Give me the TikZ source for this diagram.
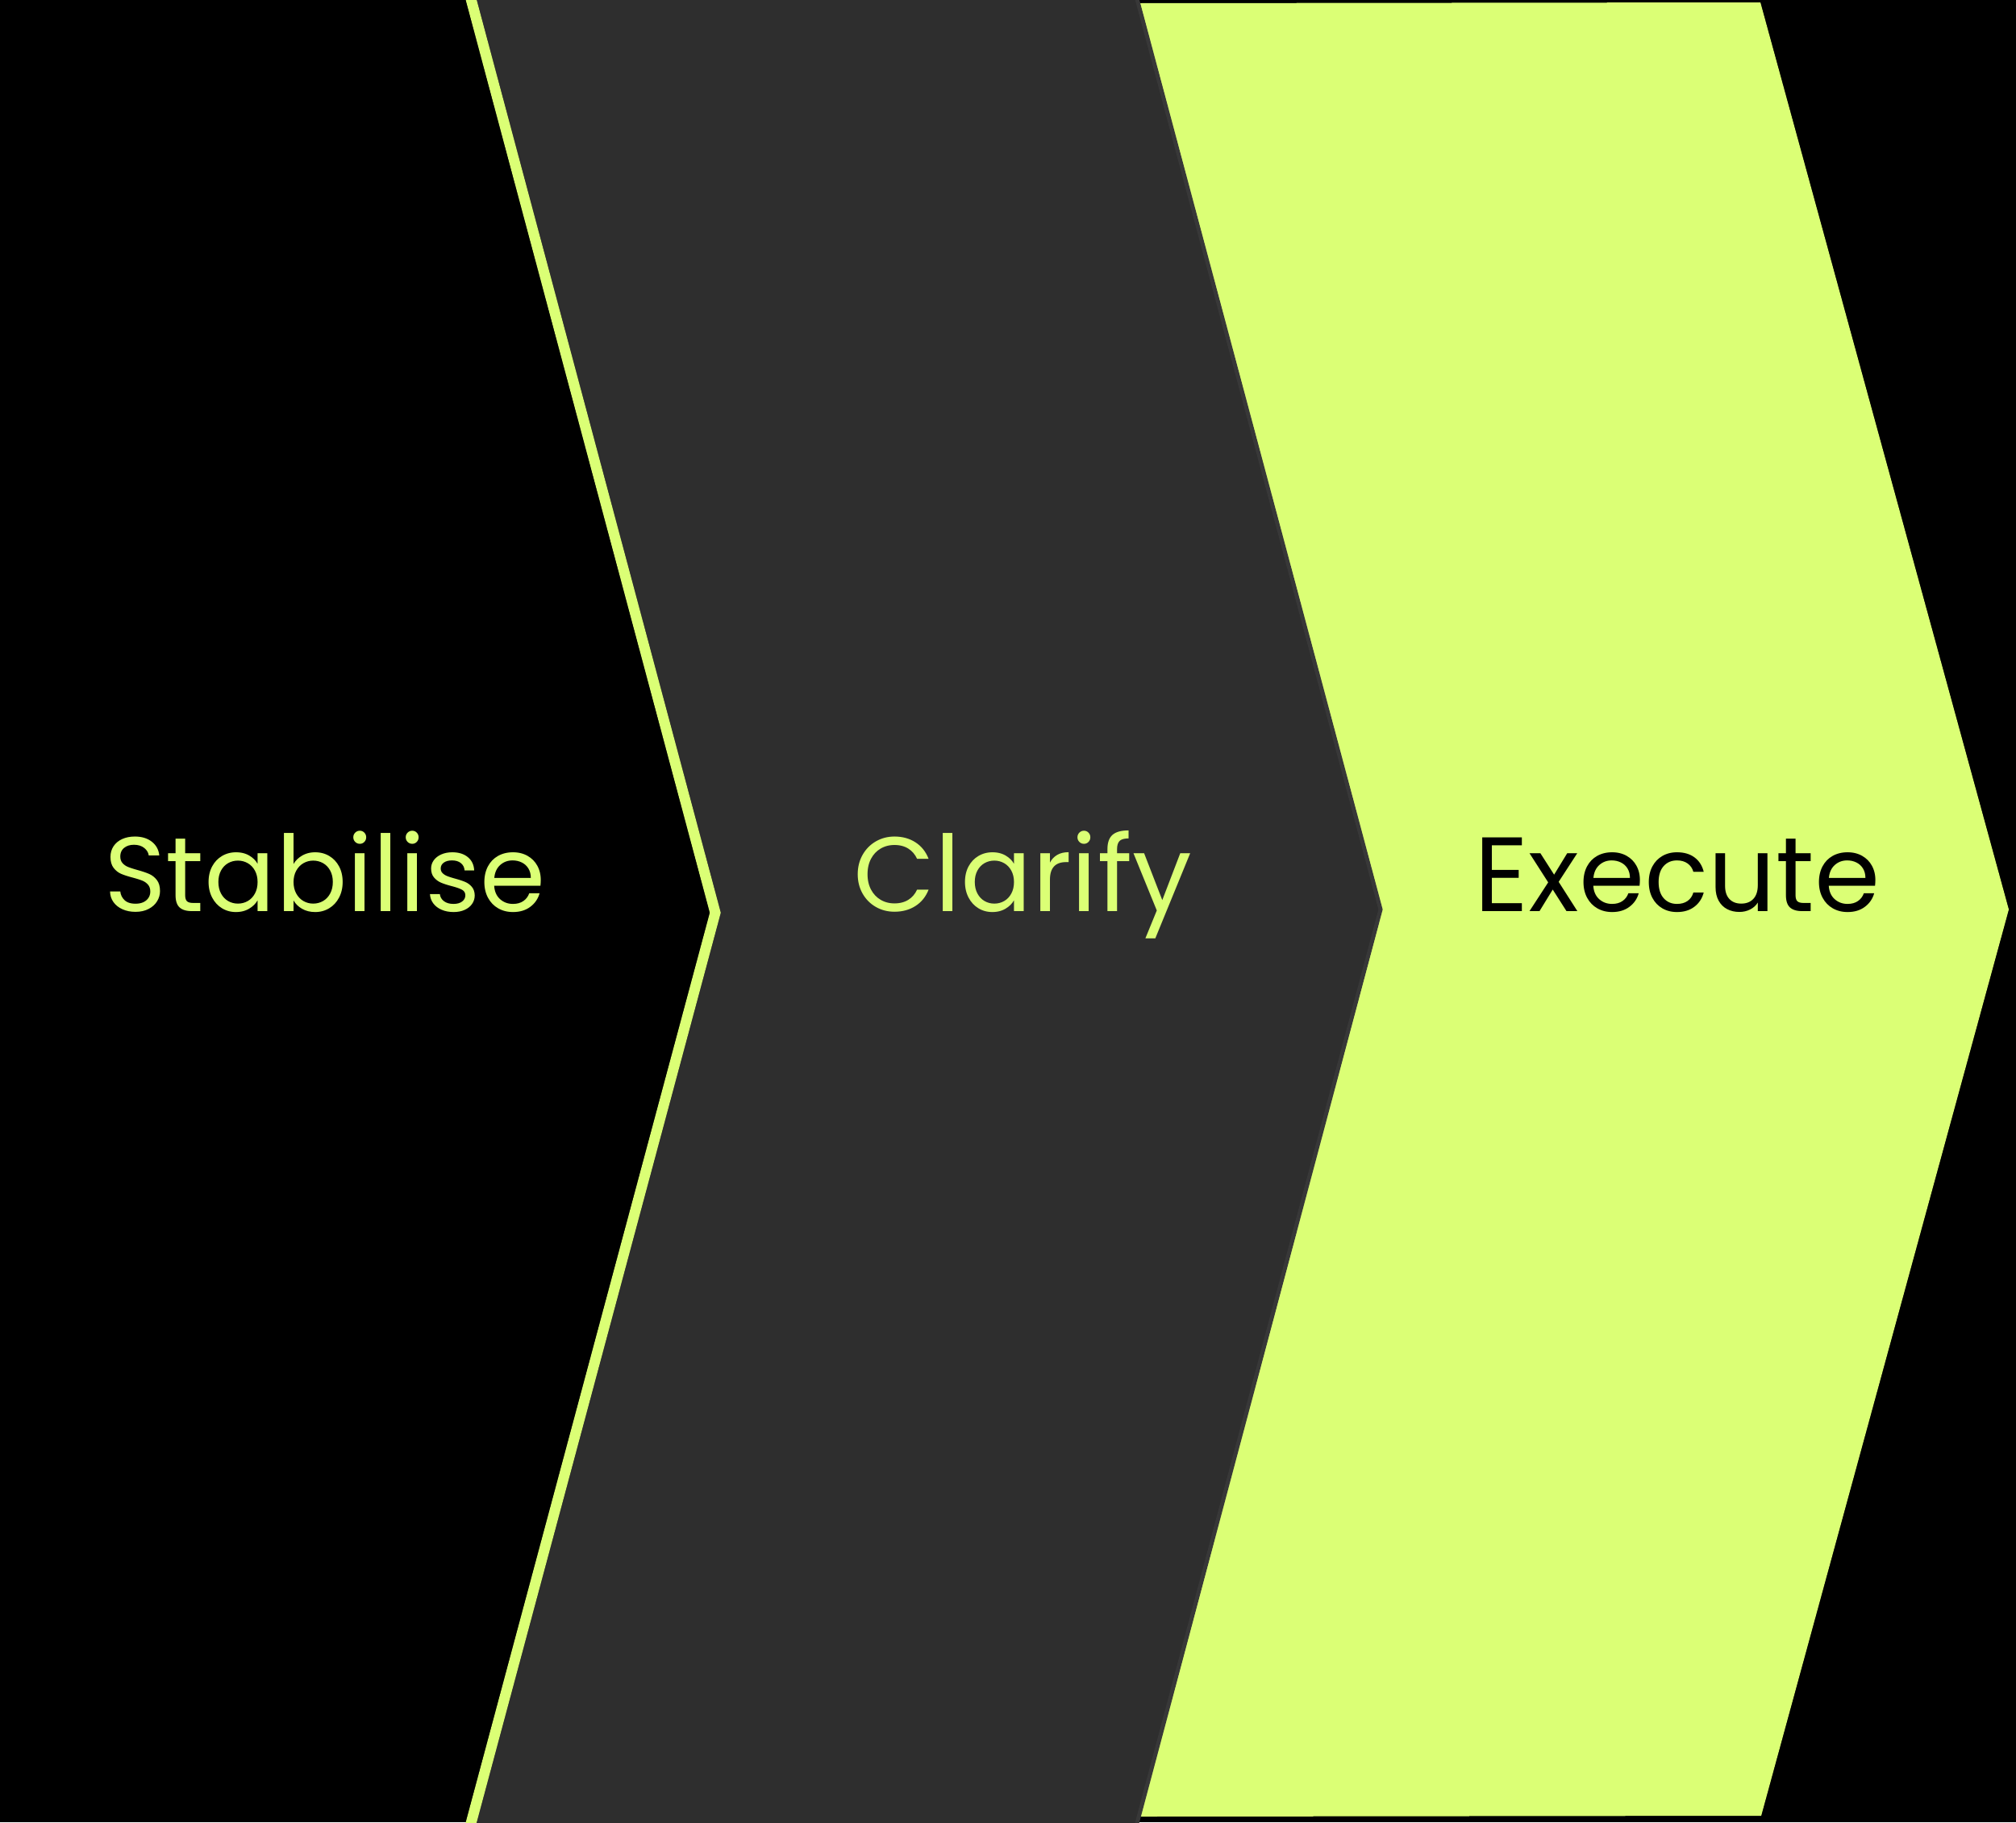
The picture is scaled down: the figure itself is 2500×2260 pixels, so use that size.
\documentclass[tikz,border=0pt]{standalone}
\usepackage{fontspec}
\setmainfont{Poppins}
\definecolor{lime}{HTML}{DBFF75}
\definecolor{darkgrey}{HTML}{2E2E2E}
\definecolor{edgegrey}{HTML}{383838}
\tikzset{
  label/.style={font=\fontsize{131}{150}\selectfont, anchor=base, inner sep=0pt}
}
\begin{document}
\begin{tikzpicture}[x=1pt,y=-1pt]
\useasboundingbox (0,0) rectangle (2500,2260);
\fill[black] (0,0) rectangle (2500,2260);
% coordinates
\coordinate (dTL) at (579,-20);
\coordinate (dTip) at (887,1132);
\coordinate (dBL) at (579,2280);
\coordinate (dTR) at (1405,-20);
\coordinate (dRTip) at (1712,1128);
\coordinate (dBR) at (1405,2280);
\coordinate (gTL) at (1413,4);
\coordinate (gTR) at (2183,3);
\coordinate (gTip) at (2491,1128);
\coordinate (gBR) at (2184,2252);
\coordinate (gBL) at (1410,2253);
% green chevron
\fill[lime] (gTL) -- (gTR) -- (gTip) -- (gBR) -- (gBL) -- (dRTip) -- cycle;
% dark chevron
\fill[darkgrey] (dTL) -- (dTR) -- (dRTip) -- (dBR) -- (dBL) -- (dTip) -- cycle;
\draw[edgegrey, line width=5pt] (dTR) -- (dRTip) -- (dBR);
% green stroke on left edge
\draw[lime, line width=13pt, line join=miter] (dTL) -- (dTip) -- (dBL);
% labels
\node[label, text=lime] (stab) at (403,1130) {Stabilise};
\node[label, text=lime] (clar) at (1268,1130) {Clarify};
\node[label, text=black] (exec) at (2080,1130) {Execute};
\end{tikzpicture}
\end{document}
